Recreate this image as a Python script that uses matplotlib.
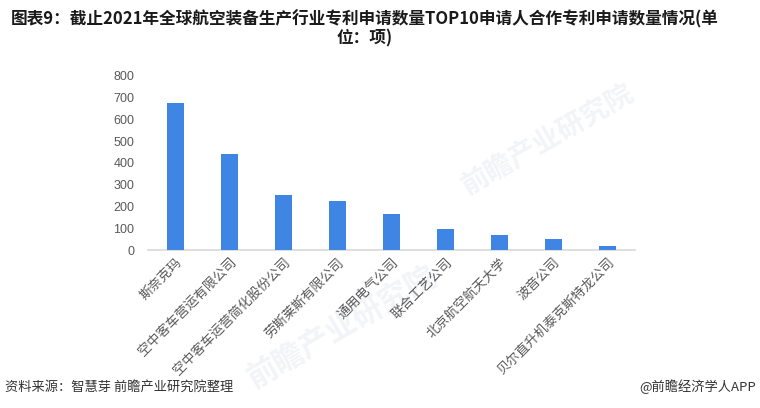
import matplotlib.pyplot as plt
import numpy as np

plt.rcParams['font.family'] = ['Noto Sans CJK SC', 'DejaVu Sans']

## 数据
applicants = ['斯奈克玛', '空中客车营运有限公司', '空中客车运营简化股份公司', '劳斯莱斯有限公司',
              '通用电气公司', '联合工艺公司', '北京航空航天大学', '波音公司', '贝尔直升机泰克斯特龙公司']
counts = [675, 439, 251, 226, 167, 98, 69, 49, 17]
yticks = [0, 100, 200, 300, 400, 500, 600, 700, 800]

title = '图表9：截止2021年全球航空装备生产行业专利申请数量TOP10申请人合作专利申请数量情况(单\n位：项)'
source = '资料来源：智慧芽 前瞻产业研究院整理'
brand = '@前瞻经济学人APP'

fig = plt.figure(figsize=(7.6, 4.08), dpi=100)

# 水印（很淡，放在最底层）
for (wx, wy, s) in [(0.72, 0.66, 20), (0.45, 0.20, 22)]:
    fig.text(wx, wy, '前瞻产业研究院', fontsize=s, color='#f2f4f7', rotation=30,
             ha='center', va='center', fontweight='bold', zorder=0)

ax = fig.add_axes([0.195, 0.387, 0.64, 0.4275])
ax.patch.set_alpha(0)
ax.set_zorder(2)

x = np.arange(len(applicants))
ax.bar(x, counts, width=0.32, color='#3F85E3', zorder=3)

ax.set_xlim(-0.5, len(applicants) - 0.5)
ax.set_ylim(0, 800)
ax.set_yticks(yticks)
ax.set_yticklabels([str(v) for v in yticks], fontsize=9, color='#595959',
                   family=['Liberation Sans', 'DejaVu Sans'])
ax.set_xticks(x)
ax.set_xticklabels(applicants, rotation=45, ha='right', va='top', rotation_mode='anchor',
                   fontsize=9.5, color='#595959')
ax.tick_params(axis='both', length=0, pad=4)
ax.tick_params(axis='y', pad=10)

for side in ['top', 'right', 'left']:
    ax.spines[side].set_visible(False)
ax.spines['bottom'].set_color('#d9d9d9')
ax.spines['bottom'].set_linewidth(1.2)

fig.text(0.48, 0.975, title, ha='center', va='top', fontsize=12, fontweight='bold',
         color='#1a1a1a', linespacing=1.05)
fig.text(0.007, 0.052, source, ha='left', va='center', fontsize=9.5, color='#333333')
fig.text(0.995, 0.052, brand, ha='right', va='center', fontsize=9.5, color='#333333')

plt.savefig('out.png', dpi=100)
plt.close()
